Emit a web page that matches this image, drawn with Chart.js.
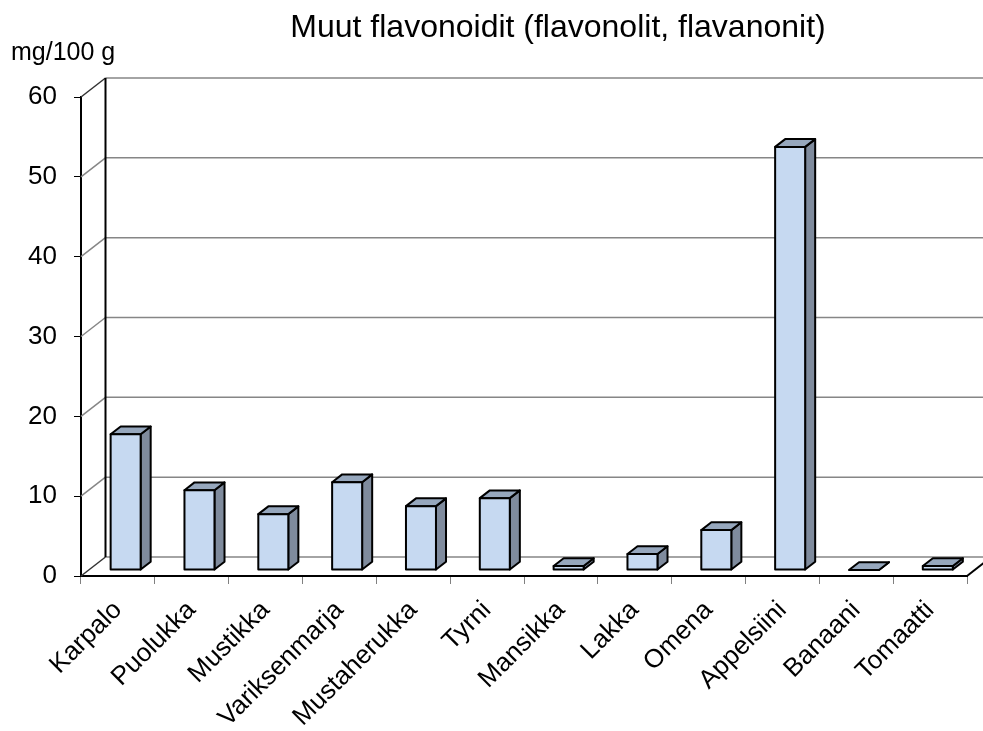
<html>
<head>
<script src="https://cdn.jsdelivr.net/npm/chart.js"></script>
</head>
<body style="margin:0;background:#fff">
<div style="width:983px;height:731px"><canvas id="chart"></canvas></div>
<script>
var labels = ['Karpalo', 'Puolukka', 'Mustikka', 'Variksenmarja', 'Mustaherukka', 'Tyrni',
              'Mansikka', 'Lakka', 'Omena', 'Appelsiini', 'Banaani', 'Tomaatti'];
var values = [17, 10, 7, 11, 8, 9, 0.5, 2, 5, 53, 0, 0.5];
var yTicks = [0, 10, 20, 30, 40, 50, 60];
var titleText = 'Muut flavonoidit (flavonolit, flavanonit)';
var unitText = 'mg/100 g';

var FONT = '"Liberation Sans", Arial, sans-serif';
// depth of the walls, and where the bars sit in it
var DX = 24.5, DY = -19;
var BF = 0.315, BD = 0.41;

function seg(ctx, x1, y1, x2, y2) {
  ctx.beginPath(); ctx.moveTo(x1, y1); ctx.lineTo(x2, y2); ctx.stroke();
}

var walls = {
  id: 'walls',
  beforeDatasetsDraw: function(chart) {
    var ctx = chart.ctx, a = chart.chartArea, ys = chart.scales.y;
    ctx.save();
    ctx.lineWidth = 1.5;
    yTicks.forEach(function(v, i) {
      var py = ys.getPixelForValue(v);
      ctx.strokeStyle = '#868686';
      seg(ctx, a.left + DX, py + DY, a.right + DX + 40, py + DY);
      ctx.strokeStyle = (i == 0 || i == yTicks.length - 1) ? '#333' : '#868686';
      seg(ctx, a.left, py, a.left + DX, py + DY);
    });
    ctx.strokeStyle = '#000';
    ctx.lineWidth = 2;
    seg(ctx, a.left + DX, a.top + DY, a.left + DX, a.bottom + DY);
    seg(ctx, a.right, a.bottom, a.right + DX, a.bottom + DY);
    ctx.restore();
  }
};

var boxes = {
  id: 'boxes',
  afterDatasetsDraw: function(chart) {
    var ctx = chart.ctx;
    var ox = DX * BF, oy = DY * BF, dx = DX * BD, dy = DY * BD;
    ctx.save();
    ctx.lineWidth = 2;
    ctx.lineJoin = 'round';
    ctx.strokeStyle = '#000';
    chart.getDatasetMeta(0).data.forEach(function(el) {
      var l = el.x - el.width / 2 + ox, r = el.x + el.width / 2 + ox;
      var t = el.y + oy, b = el.base + oy;
      // side
      ctx.fillStyle = '#7f8b9d';
      ctx.beginPath();
      ctx.moveTo(r, t); ctx.lineTo(r + dx, t + dy); ctx.lineTo(r + dx, b + dy); ctx.lineTo(r, b);
      ctx.closePath(); ctx.fill(); ctx.stroke();
      // top
      ctx.fillStyle = '#96a7bd';
      ctx.beginPath();
      ctx.moveTo(l, t); ctx.lineTo(l + dx, t + dy); ctx.lineTo(r + dx, t + dy); ctx.lineTo(r, t);
      ctx.closePath(); ctx.fill(); ctx.stroke();
      // front
      if (b - t > 0.5) {
        ctx.fillStyle = '#c6d9f1';
        ctx.fillRect(l, t, r - l, b - t);
        ctx.strokeRect(l, t, r - l, b - t);
      }
    });
    ctx.restore();
  }
};

var texts = {
  id: 'texts',
  afterDraw: function(chart) {
    var ctx = chart.ctx;
    ctx.save();
    ctx.fillStyle = '#000';
    ctx.textBaseline = 'middle';
    ctx.font = '32px ' + FONT;
    ctx.textAlign = 'center';
    ctx.fillText(titleText, 558, 28);
    ctx.font = '25px ' + FONT;
    ctx.textAlign = 'left';
    ctx.fillText(unitText, 11, 53);
    ctx.restore();
  }
};

new Chart(document.getElementById('chart'), {
  type: 'bar',
  data: {
    labels: labels,
    datasets: [{
      data: values,
      backgroundColor: 'rgba(0,0,0,0)',
      borderWidth: 0,
      barThickness: 30,
      clip: false
    }]
  },
  options: {
    responsive: true,
    maintainAspectRatio: false,
    animation: false,
    layout: { padding: { top: 97, right: 16, left: 0, bottom: 0 } },
    plugins: { legend: { display: false }, tooltip: { enabled: false }, title: { display: false } },
    scales: {
      x: {
        grid: { drawOnChartArea: false, drawTicks: true, tickLength: 8, color: '#808080', offset: true },
        border: { color: '#000', width: 2 },
        ticks: { minRotation: 45, maxRotation: 45, autoSkip: false, color: '#000', padding: 11,
                 font: { size: 26, family: FONT } },
        afterFit: function(s) { s.height = 155; }
      },
      y: {
        min: 0, max: 60,
        grid: { drawOnChartArea: false, tickLength: 7, color: '#000' },
        border: { color: '#000', width: 2 },
        ticks: { stepSize: 10, color: '#000', padding: 17, font: { size: 26, family: FONT } },
        afterFit: function(s) { s.width = 81; }
      }
    }
  },
  plugins: [walls, boxes, texts]
});
</script>
</body>
</html>
